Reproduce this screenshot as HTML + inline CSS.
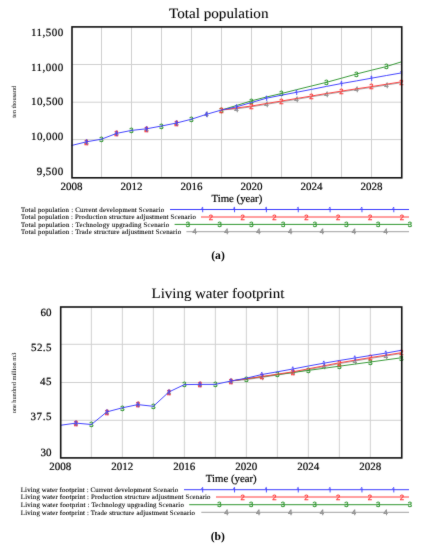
<!DOCTYPE html>
<html><head><meta charset="utf-8"><title>Charts</title><style>
html,body{margin:0;padding:0;background:#fff;}
body{width:426px;height:550px;overflow:hidden;}
svg{display:block;will-change:transform;}
text{font-family:"Liberation Serif", serif;fill:#000;text-rendering:geometricPrecision;}
.tk,.tl{stroke:#000;stroke-width:0.2px;}
.lg{stroke:#000;stroke-width:0.1px;}
.ti{stroke:#000;stroke-width:0.08px;}
.tk{font-size:11px;}
.tl{font-size:10.8px;}
.ti{font-size:14.3px;}
.ya{font-size:6.3px;}
.lg{font-size:6.8px;}
.sb{font-size:11.6px;font-weight:bold;}
.mk{font-family:"Liberation Sans", sans-serif;font-size:7.7px;font-weight:normal;text-anchor:middle;stroke-width:0.3px;}
.mk1{font-weight:normal;stroke:#3a3aff;stroke-width:0.35px;}
</style></head>
<body><svg width="426" height="550" viewBox="0 0 426 550">
<defs><filter id="soft" x="0" y="0" width="426" height="550" filterUnits="userSpaceOnUse" color-interpolation-filters="sRGB"><feConvolveMatrix order="3" kernelMatrix="0.0150 0.0600 0.0150 0.0600 0.7000 0.0600 0.0150 0.0600 0.0150" edgeMode="duplicate"/></filter></defs>
<g filter="url(#soft)">
<rect width="426" height="550" fill="#fff"/>
<g stroke="#d0d0d0" stroke-width="1"><line x1="101.50" y1="26.9" x2="101.50" y2="177.8"/><line x1="131.50" y1="26.9" x2="131.50" y2="177.8"/><line x1="161.50" y1="26.9" x2="161.50" y2="177.8"/><line x1="191.50" y1="26.9" x2="191.50" y2="177.8"/><line x1="221.50" y1="26.9" x2="221.50" y2="177.8"/><line x1="251.50" y1="26.9" x2="251.50" y2="177.8"/><line x1="281.50" y1="26.9" x2="281.50" y2="177.8"/><line x1="311.50" y1="26.9" x2="311.50" y2="177.8"/><line x1="341.50" y1="26.9" x2="341.50" y2="177.8"/><line x1="371.50" y1="26.9" x2="371.50" y2="177.8"/><line x1="72" y1="64.50" x2="401.75" y2="64.50"/><line x1="72" y1="102.20" x2="401.75" y2="102.20"/><line x1="72" y1="139.60" x2="401.75" y2="139.60"/></g>
<polyline points="221.50,110.00 236.50,108.80 251.50,106.80 266.50,104.30 281.50,101.80 296.50,99.30 311.50,96.80 326.50,94.30 341.50,91.90 356.50,89.60 371.50,87.40 386.50,85.00 401.50,82.60" fill="none" stroke="#a0a0a0" stroke-width="0.95" stroke-linejoin="round"/>
<text x="86.50" y="144.50" class="mk" style="fill:#8a8a8a;stroke:#8a8a8a">4</text>
<text x="116.50" y="136.10" class="mk" style="fill:#8a8a8a;stroke:#8a8a8a">4</text>
<text x="146.50" y="131.50" class="mk" style="fill:#8a8a8a;stroke:#8a8a8a">4</text>
<text x="176.50" y="125.70" class="mk" style="fill:#8a8a8a;stroke:#8a8a8a">4</text>
<text x="206.50" y="117.00" class="mk" style="fill:#8a8a8a;stroke:#8a8a8a">4</text>
<text x="236.50" y="111.50" class="mk" style="fill:#8a8a8a;stroke:#8a8a8a">4</text>
<text x="266.50" y="107.00" class="mk" style="fill:#8a8a8a;stroke:#8a8a8a">4</text>
<text x="296.50" y="102.00" class="mk" style="fill:#8a8a8a;stroke:#8a8a8a">4</text>
<text x="326.50" y="97.00" class="mk" style="fill:#8a8a8a;stroke:#8a8a8a">4</text>
<text x="356.50" y="92.30" class="mk" style="fill:#8a8a8a;stroke:#8a8a8a">4</text>
<text x="386.50" y="87.70" class="mk" style="fill:#8a8a8a;stroke:#8a8a8a">4</text>
<polyline points="221.50,110.00 236.50,105.50 251.50,100.80 266.50,97.00 281.50,93.50 296.50,89.70 311.50,86.00 326.50,82.30 341.50,78.20 356.50,74.00 371.50,70.20 386.50,66.50 401.50,61.80" fill="none" stroke="#2f962f" stroke-width="0.95" stroke-linejoin="round"/>
<text x="101.50" y="141.90" class="mk" style="fill:#2f962f;stroke:#2f962f">3</text>
<text x="131.50" y="133.10" class="mk" style="fill:#2f962f;stroke:#2f962f">3</text>
<text x="161.50" y="128.70" class="mk" style="fill:#2f962f;stroke:#2f962f">3</text>
<text x="191.50" y="121.90" class="mk" style="fill:#2f962f;stroke:#2f962f">3</text>
<text x="221.50" y="112.70" class="mk" style="fill:#2f962f;stroke:#2f962f">3</text>
<text x="251.50" y="103.50" class="mk" style="fill:#2f962f;stroke:#2f962f">3</text>
<text x="281.50" y="96.20" class="mk" style="fill:#2f962f;stroke:#2f962f">3</text>
<text x="326.50" y="85.00" class="mk" style="fill:#2f962f;stroke:#2f962f">3</text>
<text x="356.50" y="76.70" class="mk" style="fill:#2f962f;stroke:#2f962f">3</text>
<text x="386.50" y="69.20" class="mk" style="fill:#2f962f;stroke:#2f962f">3</text>
<polyline points="221.50,110.00 236.50,108.00 251.50,106.00 266.50,103.50 281.50,101.00 296.50,98.50 311.50,96.00 326.50,93.50 341.50,91.10 356.50,88.80 371.50,86.60 386.50,84.20 401.50,81.80" fill="none" stroke="#ff3c3c" stroke-width="0.95" stroke-linejoin="round"/>
<text x="86.50" y="144.50" class="mk" style="fill:#ff3c3c;stroke:#ff3c3c">2</text>
<text x="116.50" y="136.10" class="mk" style="fill:#ff3c3c;stroke:#ff3c3c">2</text>
<text x="146.50" y="131.50" class="mk" style="fill:#ff3c3c;stroke:#ff3c3c">2</text>
<text x="176.50" y="125.70" class="mk" style="fill:#ff3c3c;stroke:#ff3c3c">2</text>
<text x="221.50" y="112.70" class="mk" style="fill:#ff3c3c;stroke:#ff3c3c">2</text>
<text x="251.50" y="108.70" class="mk" style="fill:#ff3c3c;stroke:#ff3c3c">2</text>
<text x="281.50" y="103.70" class="mk" style="fill:#ff3c3c;stroke:#ff3c3c">2</text>
<text x="311.50" y="98.70" class="mk" style="fill:#ff3c3c;stroke:#ff3c3c">2</text>
<text x="341.50" y="93.80" class="mk" style="fill:#ff3c3c;stroke:#ff3c3c">2</text>
<text x="371.50" y="89.30" class="mk" style="fill:#ff3c3c;stroke:#ff3c3c">2</text>
<text x="401.50" y="84.50" class="mk" style="fill:#ff3c3c;stroke:#ff3c3c">2</text>
<polyline points="71.50,145.50 86.50,141.80 101.50,139.20 116.50,133.40 131.50,130.40 146.50,128.80 161.50,126.00 176.50,123.00 191.50,119.20 206.50,114.30 221.50,110.00 236.50,106.80 251.50,102.50 266.50,98.20 281.50,95.20 296.50,92.30 311.50,89.40 326.50,86.40 341.50,83.50 356.50,80.90 371.50,78.20 386.50,75.50 401.50,72.90" fill="none" stroke="#3a3aff" stroke-width="0.95" stroke-linejoin="round"/>
<path d="M85.30,140.75 L86.70,139.55 L86.70,144.55" fill="none" stroke="#3a3aff" stroke-width="0.9" stroke-linejoin="miter"/>
<path d="M115.30,132.35 L116.70,131.15 L116.70,136.15" fill="none" stroke="#3a3aff" stroke-width="0.9" stroke-linejoin="miter"/>
<path d="M145.30,127.75 L146.70,126.55 L146.70,131.55" fill="none" stroke="#3a3aff" stroke-width="0.9" stroke-linejoin="miter"/>
<path d="M175.30,121.95 L176.70,120.75 L176.70,125.75" fill="none" stroke="#3a3aff" stroke-width="0.9" stroke-linejoin="miter"/>
<path d="M205.30,113.25 L206.70,112.05 L206.70,117.05" fill="none" stroke="#3a3aff" stroke-width="0.9" stroke-linejoin="miter"/>
<path d="M235.30,105.75 L236.70,104.55 L236.70,109.55" fill="none" stroke="#3a3aff" stroke-width="0.9" stroke-linejoin="miter"/>
<path d="M265.30,97.15 L266.70,95.95 L266.70,100.95" fill="none" stroke="#3a3aff" stroke-width="0.9" stroke-linejoin="miter"/>
<path d="M295.30,91.25 L296.70,90.05 L296.70,95.05" fill="none" stroke="#3a3aff" stroke-width="0.9" stroke-linejoin="miter"/>
<path d="M340.30,82.45 L341.70,81.25 L341.70,86.25" fill="none" stroke="#3a3aff" stroke-width="0.9" stroke-linejoin="miter"/>
<path d="M370.30,77.15 L371.70,75.95 L371.70,80.95" fill="none" stroke="#3a3aff" stroke-width="0.9" stroke-linejoin="miter"/>
<path d="M400.30,71.85 L401.70,70.65 L401.70,75.65" fill="none" stroke="#3a3aff" stroke-width="0.9" stroke-linejoin="miter"/>
<rect x="72" y="26.9" width="329.75" height="150.9" fill="none" stroke="#111" stroke-width="1.6"/>
<text x="63.3" y="36.0" class="tk" text-anchor="end" textLength="32.3" lengthAdjust="spacing">11,500</text>
<text x="63.3" y="105.0" class="tk" text-anchor="end" textLength="32.3" lengthAdjust="spacing">10,500</text>
<text x="63.3" y="70.6" class="tk" text-anchor="end" textLength="32.3" lengthAdjust="spacing">11,000</text>
<text x="63.3" y="139.9" class="tk" text-anchor="end" textLength="32.3" lengthAdjust="spacing">10,000</text>
<text x="63.3" y="175.4" class="tk" text-anchor="end" textLength="26.6" lengthAdjust="spacing">9,500</text>
<text x="71.50" y="189.5" class="tk" text-anchor="middle">2008</text>
<text x="131.50" y="189.5" class="tk" text-anchor="middle">2012</text>
<text x="191.50" y="189.5" class="tk" text-anchor="middle">2016</text>
<text x="251.50" y="189.5" class="tk" text-anchor="middle">2020</text>
<text x="311.50" y="189.5" class="tk" text-anchor="middle">2024</text>
<text x="371.50" y="189.5" class="tk" text-anchor="middle">2028</text>
<text x="236.88" y="201.6" class="tl" text-anchor="middle">Time (year)</text>
<text transform="translate(218.75 17.5) scale(1.06 1)" class="ti" text-anchor="middle">Total population</text>
<text x="15.9" y="101.8" class="ya" text-anchor="middle" transform="rotate(-90 15.9 101.8)">ten thousand</text>
<text x="21.1" y="211.70" class="lg" textLength="143.0" lengthAdjust="spacing">Total population : Current development Scenario</text>
<line x1="170.0" y1="209.50" x2="409" y2="209.50" stroke="#3a3aff" stroke-width="1"/>
<path d="M201.30,208.45 L202.70,207.25 L202.70,212.25" fill="none" stroke="#3a3aff" stroke-width="0.9" stroke-linejoin="miter"/>
<path d="M233.15,208.45 L234.55,207.25 L234.55,212.25" fill="none" stroke="#3a3aff" stroke-width="0.9" stroke-linejoin="miter"/>
<path d="M265.00,208.45 L266.40,207.25 L266.40,212.25" fill="none" stroke="#3a3aff" stroke-width="0.9" stroke-linejoin="miter"/>
<path d="M296.85,208.45 L298.25,207.25 L298.25,212.25" fill="none" stroke="#3a3aff" stroke-width="0.9" stroke-linejoin="miter"/>
<path d="M328.70,208.45 L330.10,207.25 L330.10,212.25" fill="none" stroke="#3a3aff" stroke-width="0.9" stroke-linejoin="miter"/>
<path d="M360.55,208.45 L361.95,207.25 L361.95,212.25" fill="none" stroke="#3a3aff" stroke-width="0.9" stroke-linejoin="miter"/>
<path d="M392.40,208.45 L393.80,207.25 L393.80,212.25" fill="none" stroke="#3a3aff" stroke-width="0.9" stroke-linejoin="miter"/>
<text x="21.1" y="219.20" class="lg" textLength="174.7" lengthAdjust="spacing">Total population : Production structure adjustment Scenario</text>
<line x1="201.0" y1="217.00" x2="409" y2="217.00" stroke="#ff3c3c" stroke-width="1"/>
<text x="210.80" y="219.70" class="mk" style="fill:#ff3c3c;stroke:#ff3c3c">2</text>
<text x="242.65" y="219.70" class="mk" style="fill:#ff3c3c;stroke:#ff3c3c">2</text>
<text x="274.50" y="219.70" class="mk" style="fill:#ff3c3c;stroke:#ff3c3c">2</text>
<text x="306.35" y="219.70" class="mk" style="fill:#ff3c3c;stroke:#ff3c3c">2</text>
<text x="338.20" y="219.70" class="mk" style="fill:#ff3c3c;stroke:#ff3c3c">2</text>
<text x="370.05" y="219.70" class="mk" style="fill:#ff3c3c;stroke:#ff3c3c">2</text>
<text x="401.90" y="219.70" class="mk" style="fill:#ff3c3c;stroke:#ff3c3c">2</text>
<text x="21.1" y="226.60" class="lg" textLength="148.0" lengthAdjust="spacing">Total population : Technology upgrading Scenario</text>
<line x1="174.6" y1="224.40" x2="409" y2="224.40" stroke="#2f962f" stroke-width="1"/>
<text x="187.90" y="227.10" class="mk" style="fill:#2f962f;stroke:#2f962f">3</text>
<text x="219.62" y="227.10" class="mk" style="fill:#2f962f;stroke:#2f962f">3</text>
<text x="251.34" y="227.10" class="mk" style="fill:#2f962f;stroke:#2f962f">3</text>
<text x="283.06" y="227.10" class="mk" style="fill:#2f962f;stroke:#2f962f">3</text>
<text x="314.78" y="227.10" class="mk" style="fill:#2f962f;stroke:#2f962f">3</text>
<text x="346.50" y="227.10" class="mk" style="fill:#2f962f;stroke:#2f962f">3</text>
<text x="378.22" y="227.10" class="mk" style="fill:#2f962f;stroke:#2f962f">3</text>
<text x="409.94" y="227.10" class="mk" style="fill:#2f962f;stroke:#2f962f">3</text>
<text x="21.1" y="233.90" class="lg" textLength="160.0" lengthAdjust="spacing">Total population : Trade structure adjustment Scenario</text>
<line x1="186.4" y1="231.70" x2="409" y2="231.70" stroke="#a0a0a0" stroke-width="1"/>
<text x="194.60" y="234.40" class="mk" style="fill:#8a8a8a;stroke:#8a8a8a">4</text>
<text x="226.45" y="234.40" class="mk" style="fill:#8a8a8a;stroke:#8a8a8a">4</text>
<text x="258.30" y="234.40" class="mk" style="fill:#8a8a8a;stroke:#8a8a8a">4</text>
<text x="290.15" y="234.40" class="mk" style="fill:#8a8a8a;stroke:#8a8a8a">4</text>
<text x="322.00" y="234.40" class="mk" style="fill:#8a8a8a;stroke:#8a8a8a">4</text>
<text x="353.85" y="234.40" class="mk" style="fill:#8a8a8a;stroke:#8a8a8a">4</text>
<text x="385.70" y="234.40" class="mk" style="fill:#8a8a8a;stroke:#8a8a8a">4</text>
<text x="218.0" y="259.4" class="sb" text-anchor="middle">(a)</text>
<g stroke="#d0d0d0" stroke-width="1"><line x1="91.35" y1="307.0" x2="91.35" y2="457.9"/><line x1="122.35" y1="307.0" x2="122.35" y2="457.9"/><line x1="153.35" y1="307.0" x2="153.35" y2="457.9"/><line x1="184.35" y1="307.0" x2="184.35" y2="457.9"/><line x1="215.35" y1="307.0" x2="215.35" y2="457.9"/><line x1="246.35" y1="307.0" x2="246.35" y2="457.9"/><line x1="277.35" y1="307.0" x2="277.35" y2="457.9"/><line x1="308.35" y1="307.0" x2="308.35" y2="457.9"/><line x1="339.35" y1="307.0" x2="339.35" y2="457.9"/><line x1="370.35" y1="307.0" x2="370.35" y2="457.9"/><line x1="60.7" y1="344.30" x2="401.75" y2="344.30"/><line x1="60.7" y1="382.50" x2="401.75" y2="382.50"/><line x1="60.7" y1="420.30" x2="401.75" y2="420.30"/></g>
<polyline points="230.85,381.00 246.35,379.60 261.85,377.40 277.35,375.00 292.85,372.60 308.35,369.60 323.85,366.60 339.35,363.60 354.85,361.00 370.35,358.40 385.85,356.00 401.35,353.50" fill="none" stroke="#a0a0a0" stroke-width="0.95" stroke-linejoin="round"/>
<text x="75.85" y="425.80" class="mk" style="fill:#8a8a8a;stroke:#8a8a8a">4</text>
<text x="106.85" y="414.60" class="mk" style="fill:#8a8a8a;stroke:#8a8a8a">4</text>
<text x="137.85" y="407.30" class="mk" style="fill:#8a8a8a;stroke:#8a8a8a">4</text>
<text x="168.85" y="394.70" class="mk" style="fill:#8a8a8a;stroke:#8a8a8a">4</text>
<text x="199.85" y="387.10" class="mk" style="fill:#8a8a8a;stroke:#8a8a8a">4</text>
<text x="230.85" y="383.70" class="mk" style="fill:#8a8a8a;stroke:#8a8a8a">4</text>
<text x="261.85" y="380.10" class="mk" style="fill:#8a8a8a;stroke:#8a8a8a">4</text>
<text x="292.85" y="375.30" class="mk" style="fill:#8a8a8a;stroke:#8a8a8a">4</text>
<text x="323.85" y="369.30" class="mk" style="fill:#8a8a8a;stroke:#8a8a8a">4</text>
<text x="354.85" y="363.70" class="mk" style="fill:#8a8a8a;stroke:#8a8a8a">4</text>
<text x="385.85" y="358.70" class="mk" style="fill:#8a8a8a;stroke:#8a8a8a">4</text>
<polyline points="230.85,381.00 246.35,378.80 261.85,376.70 277.35,374.60 292.85,372.50 308.35,370.40 323.85,368.30 339.35,366.20 354.85,364.10 370.35,362.00 385.85,359.90 401.35,357.80" fill="none" stroke="#2f962f" stroke-width="0.95" stroke-linejoin="round"/>
<text x="91.35" y="427.20" class="mk" style="fill:#2f962f;stroke:#2f962f">3</text>
<text x="122.35" y="410.50" class="mk" style="fill:#2f962f;stroke:#2f962f">3</text>
<text x="153.35" y="409.00" class="mk" style="fill:#2f962f;stroke:#2f962f">3</text>
<text x="184.35" y="387.30" class="mk" style="fill:#2f962f;stroke:#2f962f">3</text>
<text x="215.35" y="387.10" class="mk" style="fill:#2f962f;stroke:#2f962f">3</text>
<text x="246.35" y="381.50" class="mk" style="fill:#2f962f;stroke:#2f962f">3</text>
<text x="277.35" y="377.30" class="mk" style="fill:#2f962f;stroke:#2f962f">3</text>
<text x="308.35" y="373.10" class="mk" style="fill:#2f962f;stroke:#2f962f">3</text>
<text x="339.35" y="368.90" class="mk" style="fill:#2f962f;stroke:#2f962f">3</text>
<text x="370.35" y="364.70" class="mk" style="fill:#2f962f;stroke:#2f962f">3</text>
<text x="401.35" y="360.50" class="mk" style="fill:#2f962f;stroke:#2f962f">3</text>
<polyline points="230.85,381.00 246.35,378.80 261.85,376.60 277.35,374.20 292.85,371.80 308.35,368.80 323.85,365.80 339.35,362.80 354.85,360.20 370.35,357.60 385.85,355.20 401.35,352.70" fill="none" stroke="#ff3c3c" stroke-width="0.95" stroke-linejoin="round"/>
<text x="75.85" y="425.80" class="mk" style="fill:#ff3c3c;stroke:#ff3c3c">2</text>
<text x="106.85" y="414.60" class="mk" style="fill:#ff3c3c;stroke:#ff3c3c">2</text>
<text x="137.85" y="407.30" class="mk" style="fill:#ff3c3c;stroke:#ff3c3c">2</text>
<text x="168.85" y="394.70" class="mk" style="fill:#ff3c3c;stroke:#ff3c3c">2</text>
<text x="199.85" y="387.10" class="mk" style="fill:#ff3c3c;stroke:#ff3c3c">2</text>
<text x="230.85" y="383.70" class="mk" style="fill:#ff3c3c;stroke:#ff3c3c">2</text>
<text x="261.85" y="379.30" class="mk" style="fill:#ff3c3c;stroke:#ff3c3c">2</text>
<text x="292.85" y="374.50" class="mk" style="fill:#ff3c3c;stroke:#ff3c3c">2</text>
<text x="339.35" y="365.50" class="mk" style="fill:#ff3c3c;stroke:#ff3c3c">2</text>
<text x="370.35" y="360.30" class="mk" style="fill:#ff3c3c;stroke:#ff3c3c">2</text>
<text x="401.35" y="355.40" class="mk" style="fill:#ff3c3c;stroke:#ff3c3c">2</text>
<polyline points="60.35,425.30 75.85,423.10 91.35,424.50 106.85,411.90 122.35,407.80 137.85,404.60 153.35,406.30 168.85,392.00 184.35,384.60 199.85,384.40 215.35,384.40 230.85,381.00 246.35,378.20 261.85,374.50 277.35,371.80 292.85,369.00 308.35,366.00 323.85,363.20 339.35,360.50 354.85,358.00 370.35,355.50 385.85,353.10 401.35,350.30" fill="none" stroke="#3a3aff" stroke-width="0.95" stroke-linejoin="round"/>
<path d="M74.65,422.05 L76.05,420.85 L76.05,425.85" fill="none" stroke="#3a3aff" stroke-width="0.9" stroke-linejoin="miter"/>
<path d="M105.65,410.85 L107.05,409.65 L107.05,414.65" fill="none" stroke="#3a3aff" stroke-width="0.9" stroke-linejoin="miter"/>
<path d="M136.65,403.55 L138.05,402.35 L138.05,407.35" fill="none" stroke="#3a3aff" stroke-width="0.9" stroke-linejoin="miter"/>
<path d="M167.65,390.95 L169.05,389.75 L169.05,394.75" fill="none" stroke="#3a3aff" stroke-width="0.9" stroke-linejoin="miter"/>
<path d="M198.65,383.35 L200.05,382.15 L200.05,387.15" fill="none" stroke="#3a3aff" stroke-width="0.9" stroke-linejoin="miter"/>
<path d="M229.65,379.95 L231.05,378.75 L231.05,383.75" fill="none" stroke="#3a3aff" stroke-width="0.9" stroke-linejoin="miter"/>
<path d="M260.65,373.45 L262.05,372.25 L262.05,377.25" fill="none" stroke="#3a3aff" stroke-width="0.9" stroke-linejoin="miter"/>
<path d="M291.65,367.95 L293.05,366.75 L293.05,371.75" fill="none" stroke="#3a3aff" stroke-width="0.9" stroke-linejoin="miter"/>
<path d="M322.65,362.15 L324.05,360.95 L324.05,365.95" fill="none" stroke="#3a3aff" stroke-width="0.9" stroke-linejoin="miter"/>
<path d="M353.65,356.95 L355.05,355.75 L355.05,360.75" fill="none" stroke="#3a3aff" stroke-width="0.9" stroke-linejoin="miter"/>
<path d="M384.65,352.05 L386.05,350.85 L386.05,355.85" fill="none" stroke="#3a3aff" stroke-width="0.9" stroke-linejoin="miter"/>
<rect x="60.7" y="307.0" width="341.05" height="150.89999999999998" fill="none" stroke="#111" stroke-width="1.6"/>
<text x="51.4" y="316.2" class="tk" text-anchor="end">60</text>
<text x="51.4" y="350.9" class="tk" text-anchor="end" textLength="20.4" lengthAdjust="spacing">52.5</text>
<text x="51.4" y="385.0" class="tk" text-anchor="end" textLength="11.3" lengthAdjust="spacing">45</text>
<text x="51.4" y="420.2" class="tk" text-anchor="end" textLength="20.8" lengthAdjust="spacing">37.5</text>
<text x="51.4" y="455.5" class="tk" text-anchor="end">30</text>
<text x="60.35" y="469.7" class="tk" text-anchor="middle">2008</text>
<text x="122.35" y="469.7" class="tk" text-anchor="middle">2012</text>
<text x="184.35" y="469.7" class="tk" text-anchor="middle">2016</text>
<text x="246.35" y="469.7" class="tk" text-anchor="middle">2020</text>
<text x="308.35" y="469.7" class="tk" text-anchor="middle">2024</text>
<text x="370.35" y="469.7" class="tk" text-anchor="middle">2028</text>
<text x="231.22" y="482.0" class="tl" text-anchor="middle">Time (year)</text>
<text transform="translate(217.9 297.8) scale(1.045 1)" class="ti" text-anchor="middle">Living water footprint</text>
<text x="16.2" y="383.0" class="ya" text-anchor="middle" transform="rotate(-90 16.2 383.0)">one hundred million m3</text>
<text x="20.8" y="491.90" class="lg" textLength="157.4" lengthAdjust="spacing">Living water footprint : Current development Scenario</text>
<line x1="184.0" y1="489.70" x2="409" y2="489.70" stroke="#3a3aff" stroke-width="1"/>
<path d="M201.30,488.65 L202.70,487.45 L202.70,492.45" fill="none" stroke="#3a3aff" stroke-width="0.9" stroke-linejoin="miter"/>
<path d="M233.15,488.65 L234.55,487.45 L234.55,492.45" fill="none" stroke="#3a3aff" stroke-width="0.9" stroke-linejoin="miter"/>
<path d="M265.00,488.65 L266.40,487.45 L266.40,492.45" fill="none" stroke="#3a3aff" stroke-width="0.9" stroke-linejoin="miter"/>
<path d="M296.85,488.65 L298.25,487.45 L298.25,492.45" fill="none" stroke="#3a3aff" stroke-width="0.9" stroke-linejoin="miter"/>
<path d="M328.70,488.65 L330.10,487.45 L330.10,492.45" fill="none" stroke="#3a3aff" stroke-width="0.9" stroke-linejoin="miter"/>
<path d="M360.55,488.65 L361.95,487.45 L361.95,492.45" fill="none" stroke="#3a3aff" stroke-width="0.9" stroke-linejoin="miter"/>
<path d="M392.40,488.65 L393.80,487.45 L393.80,492.45" fill="none" stroke="#3a3aff" stroke-width="0.9" stroke-linejoin="miter"/>
<text x="20.8" y="499.20" class="lg" textLength="189.7" lengthAdjust="spacing">Living water footprint : Production structure adjustment Scenario</text>
<line x1="216.0" y1="497.00" x2="409" y2="497.00" stroke="#ff3c3c" stroke-width="1"/>
<text x="242.60" y="499.70" class="mk" style="fill:#ff3c3c;stroke:#ff3c3c">2</text>
<text x="274.45" y="499.70" class="mk" style="fill:#ff3c3c;stroke:#ff3c3c">2</text>
<text x="306.30" y="499.70" class="mk" style="fill:#ff3c3c;stroke:#ff3c3c">2</text>
<text x="338.15" y="499.70" class="mk" style="fill:#ff3c3c;stroke:#ff3c3c">2</text>
<text x="370.00" y="499.70" class="mk" style="fill:#ff3c3c;stroke:#ff3c3c">2</text>
<text x="401.85" y="499.70" class="mk" style="fill:#ff3c3c;stroke:#ff3c3c">2</text>
<text x="20.8" y="506.90" class="lg" textLength="163.0" lengthAdjust="spacing">Living water footprint : Technology upgrading Scenario</text>
<line x1="189.2" y1="504.70" x2="409" y2="504.70" stroke="#2f962f" stroke-width="1"/>
<text x="219.50" y="507.40" class="mk" style="fill:#2f962f;stroke:#2f962f">3</text>
<text x="251.22" y="507.40" class="mk" style="fill:#2f962f;stroke:#2f962f">3</text>
<text x="282.94" y="507.40" class="mk" style="fill:#2f962f;stroke:#2f962f">3</text>
<text x="314.66" y="507.40" class="mk" style="fill:#2f962f;stroke:#2f962f">3</text>
<text x="346.38" y="507.40" class="mk" style="fill:#2f962f;stroke:#2f962f">3</text>
<text x="378.10" y="507.40" class="mk" style="fill:#2f962f;stroke:#2f962f">3</text>
<text x="409.82" y="507.40" class="mk" style="fill:#2f962f;stroke:#2f962f">3</text>
<text x="20.8" y="514.50" class="lg" textLength="174.1" lengthAdjust="spacing">Living water footprint : Trade structure adjustment Scenario</text>
<line x1="201.3" y1="512.30" x2="409" y2="512.30" stroke="#a0a0a0" stroke-width="1"/>
<text x="226.40" y="515.00" class="mk" style="fill:#8a8a8a;stroke:#8a8a8a">4</text>
<text x="258.25" y="515.00" class="mk" style="fill:#8a8a8a;stroke:#8a8a8a">4</text>
<text x="290.10" y="515.00" class="mk" style="fill:#8a8a8a;stroke:#8a8a8a">4</text>
<text x="321.95" y="515.00" class="mk" style="fill:#8a8a8a;stroke:#8a8a8a">4</text>
<text x="353.80" y="515.00" class="mk" style="fill:#8a8a8a;stroke:#8a8a8a">4</text>
<text x="385.65" y="515.00" class="mk" style="fill:#8a8a8a;stroke:#8a8a8a">4</text>
<text x="217.8" y="540.0" class="sb" text-anchor="middle">(b)</text>
</g>
</svg></body></html>
